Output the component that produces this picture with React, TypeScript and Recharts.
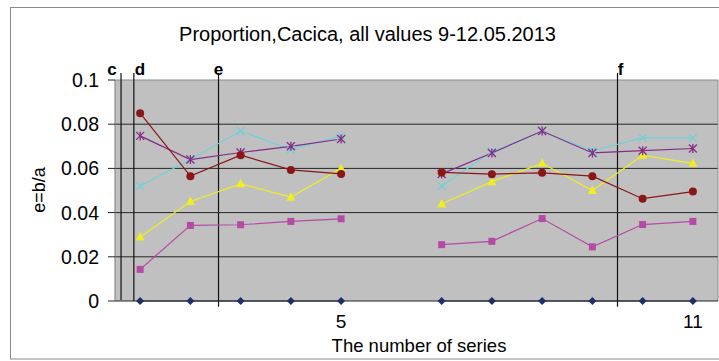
import React from 'react';
import {
  LineChart,
  Line,
  XAxis,
  YAxis,
  CartesianGrid,
  ReferenceLine,
  Customized,
} from 'recharts';

// Category positions along the x axis (position 6 is an empty slot between the two runs)
const positions = [1, 2, 3, 4, 5, 6, 7, 8, 9, 10, 11, 12];
const categoryLabels = ['1', '2', '3', '4', '5', '', '6', '7', '8', '9', '10', '11'];
const labelledPositions = [5, 12];
const boundaryTicks = [0.5, 1.5, 2.5, 3.5, 4.5, 5.5, 6.5, 7.5, 8.5, 9.5, 10.5, 11.5, 12.5];
const yTicks = [0, 0.02, 0.04, 0.06, 0.08, 0.1];
const gridValues = [0.02, 0.04, 0.06, 0.08];

// Series values (e = b/a)
const seriesBase = [0, 0, 0, 0, 0, null, 0, 0, 0, 0, 0, 0];
const seriesSquare = [0.0143, 0.0342, 0.0345, 0.036, 0.0372, null, 0.0255, 0.027, 0.0373, 0.0245, 0.0346, 0.036];
const seriesTriangle = [0.029, 0.045, 0.053, 0.047, 0.06, null, 0.0439, 0.054, 0.0623, 0.05, 0.0659, 0.0623];
const seriesCross = [0.052, 0.064, 0.0769, 0.0685, 0.0747, null, 0.052, 0.0675, 0.0769, 0.068, 0.0738, 0.0738];
const seriesStar = [0.0747, 0.064, 0.0672, 0.07, 0.0733, null, 0.0575, 0.067, 0.0769, 0.067, 0.068, 0.069];
const seriesCircle = [0.085, 0.0565, 0.066, 0.0593, 0.0575, null, 0.0582, 0.0574, 0.058, 0.0565, 0.0463, 0.0495];

// Marker lines c, d, e, f (x in category units, top/bottom in e units)
const markerNames = ['c', 'd', 'e', 'f'];
const markerX = [0.62, 0.875, 2.56, 10.5];
const markerTop = [0.1032, 0.1032, 0.1032, 0.1032];
const markerBottom = [0.0005, 0, -0.0026, -0.0026];
const markerLabelShift = [-9, 6, 0, 3];

const data = positions.map((pos, i) => ({
  pos,
  base: seriesBase[i],
  square: seriesSquare[i],
  triangle: seriesTriangle[i],
  cross: seriesCross[i],
  star: seriesStar[i],
  circle: seriesCircle[i],
}));

const FONT = '"Liberation Sans", Arial, sans-serif';

type Kind = 'diamond' | 'square' | 'triangle' | 'cross' | 'star' | 'circle';

const makeDot = (kind: Kind, color: string) => (props: any) => {
  const { cx, cy, value, index } = props;
  if (cx == null || cy == null || value == null || Number.isNaN(cy)) return <g key={`e${index}`} />;
  const k = `${kind}${index}`;
  switch (kind) {
    case 'diamond':
      return <polygon key={k} points={`${cx},${cy - 4} ${cx + 4},${cy} ${cx},${cy + 4} ${cx - 4},${cy}`} fill={color} />;
    case 'square':
      return <rect key={k} x={cx - 3.5} y={cy - 3.5} width={7} height={7} fill={color} />;
    case 'triangle':
      return <polygon key={k} points={`${cx},${cy - 5} ${cx + 4.5},${cy + 3.5} ${cx - 4.5},${cy + 3.5}`} fill={color} />;
    case 'cross':
      return (
        <g key={k} stroke={color} strokeWidth={1.3}>
          <line x1={cx - 4} y1={cy - 4} x2={cx + 4} y2={cy + 4} />
          <line x1={cx - 4} y1={cy + 4} x2={cx + 4} y2={cy - 4} />
        </g>
      );
    case 'star':
      return (
        <g key={k} stroke={color} strokeWidth={1.3}>
          <line x1={cx - 4} y1={cy - 4} x2={cx + 4} y2={cy + 4} />
          <line x1={cx - 4} y1={cy + 4} x2={cx + 4} y2={cy - 4} />
          <line x1={cx} y1={cy - 4.5} x2={cx} y2={cy + 4.5} />
        </g>
      );
    default:
      return <circle key={k} cx={cx} cy={cy} r={4} fill={color} />;
  }
};

const seriesDefs: { key: string; kind: Kind; color: string }[] = [
  { key: 'base', kind: 'diamond', color: '#1c2f6b' },
  { key: 'square', kind: 'square', color: '#b54aa6' },
  { key: 'triangle', kind: 'triangle', color: '#eeee22' },
  { key: 'cross', kind: 'cross', color: '#6fd0d8' },
  { key: 'star', kind: 'star', color: '#862a86' },
  { key: 'circle', kind: 'circle', color: '#8a1616' },
];

const formatY = (v: number) => (v === 0 ? '0' : String(Number(v.toFixed(2))));

const formatCategory = (v: number) => categoryLabels[positions.indexOf(v)] ?? '';

const Decorations = () => (
  <g fontFamily={FONT}>
    <rect x={10.5} y={7.5} width={720} height={351.5} fill="none" stroke="#8a8a8a" strokeWidth={1} />
    <text x={367.5} y={41} textAnchor="middle" fontSize={20} fill="#000">
      Proportion,Cacica, all values 9-12.05.2013
    </text>
    <text x={419} y={352} textAnchor="middle" fontSize={18.5} fill="#000">
      The number of series
    </text>
    <text
      x={45}
      y={190}
      textAnchor="middle"
      fontSize={18}
      fill="#000"
      transform="rotate(-90 45 190)"
    >
      e=b/a
    </text>
  </g>
);

export default function App() {
  return (
    <div style={{ position: 'absolute', left: 0, top: 0, width: 719, height: 361, background: '#fff' }}>
      <LineChart
        width={719}
        height={361}
        data={data}
        margin={{ top: 80, right: 1, bottom: 24, left: 0 }}
      >
        <Customized component={<Decorations />} />
        <CartesianGrid
          vertical={false}
          horizontalValues={gridValues}
          stroke="#262626"
          strokeWidth={1}
          fill="#c0c0c0"
          fillOpacity={1}
        />
        <XAxis
          dataKey="pos"
          type="number"
          domain={[0.5, 12.5]}
          ticks={boundaryTicks}
          tick={false}
          tickSize={6}
          height={6}
          axisLine={{ stroke: '#222' }}
          tickLine={{ stroke: '#222' }}
          allowDataOverflow
        />
        <XAxis
          xAxisId="lab"
          dataKey="pos"
          type="number"
          domain={[0.5, 12.5]}
          ticks={labelledPositions}
          tickFormatter={formatCategory}
          axisLine={false}
          tickLine={false}
          tickSize={0}
          tickMargin={8}
          height={30}
          tick={{ fontSize: 19, fill: '#000', fontFamily: FONT }}
        />
        <YAxis
          type="number"
          domain={[0, 0.1]}
          ticks={yTicks}
          tickFormatter={formatY}
          width={115}
          tickSize={7}
          tickMargin={9}
          axisLine={{ stroke: '#7a7a7a' }}
          tickLine={{ stroke: '#222' }}
          tick={{ fontSize: 19.5, fill: '#000', fontFamily: FONT }}
          interval={0}
        />
        <ReferenceLine y={0.1} stroke="#8a8a8a" />
        <ReferenceLine x={12.5} stroke="#8a8a8a" />
        {markerNames.map((name, i) => (
          <ReferenceLine
            key={name}
            segment={[
              { x: markerX[i], y: markerTop[i] },
              { x: markerX[i], y: markerBottom[i] },
            ]}
            stroke="#111"
            strokeWidth={1.2}
            ifOverflow="visible"
            label={(p: any) => {
              const vb = p.viewBox || {};
              return (
                <text
                  x={(vb.x ?? 0) + markerLabelShift[i]}
                  y={(vb.y ?? 0) + 2}
                  textAnchor="middle"
                  fontSize={17}
                  fontWeight="bold"
                  fontFamily={FONT}
                  fill="#000"
                >
                  {name}
                </text>
              );
            }}
          />
        ))}
        {seriesDefs.map((s) => (
          <Line
            key={s.key}
            dataKey={s.key}
            stroke={s.color}
            strokeWidth={1.2}
            dot={makeDot(s.kind, s.color)}
            activeDot={false}
            connectNulls={false}
            isAnimationActive={false}
          />
        ))}
      </LineChart>
    </div>
  );
}
